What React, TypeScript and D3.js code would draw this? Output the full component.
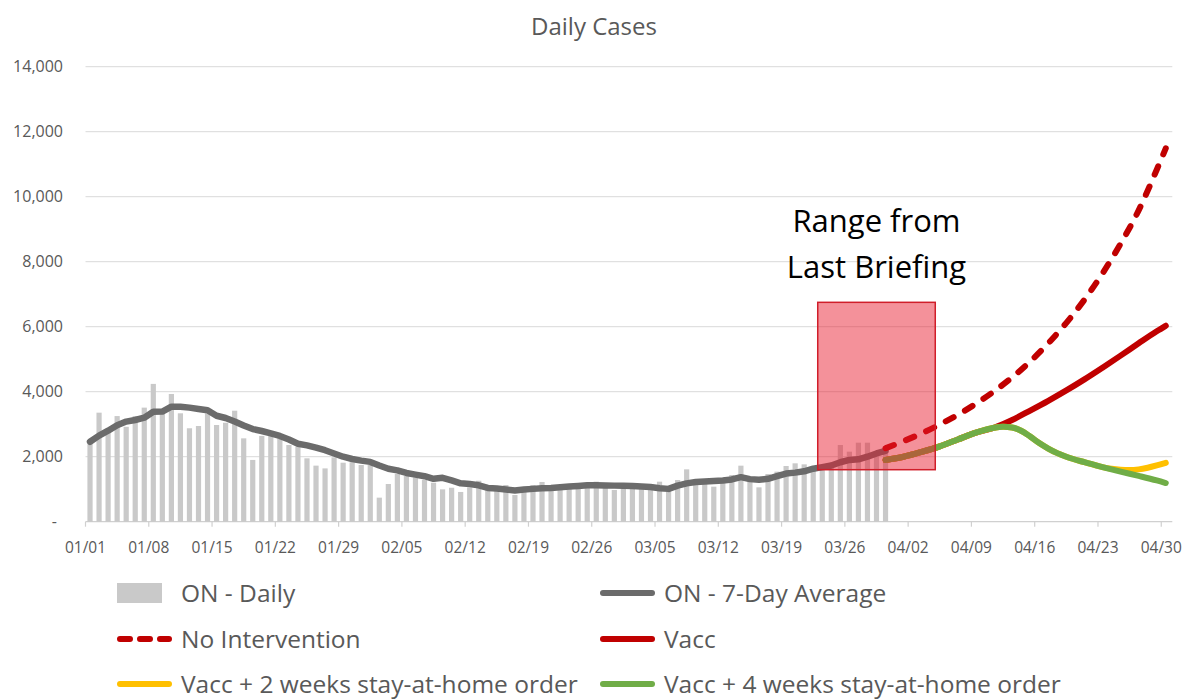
import React from "react";
import * as d3 from "d3";

const width = 1190;
const height = 700;
const plot = { left: 85.5, right: 1170.3, top: 66.7, bottom: 521.7 };

// daily reported cases, 01/01 .. 03/30
const dailyCases = [
  2460, 3355, 2860, 3250, 2920, 3250, 3510, 4240, 3355, 3930,
  3335, 2875, 2945, 3335, 2975, 3045, 3415, 2565, 1900, 2640,
  2670, 2565, 2360, 2310, 1950, 1725, 1640, 1980, 1815, 1830,
  1745, 1745, 740, 1160, 1470, 1405, 1365, 1285, 1200, 995,
  1045, 915, 1055, 1260, 995, 1077, 1129, 822, 1027, 1129,
  1222, 1077, 1077, 1129, 1129, 1129, 1232, 1077, 975, 1077,
  1077, 1077, 1027, 1232, 1027, 1283, 1611, 1180, 1160, 1078,
  1232, 1437, 1724, 1334, 1057, 1468, 1540, 1714, 1796, 1765,
  1642, 1660, 1693, 2360, 2155, 2432, 2432, 2103, 2206,
];

// 7-day average, same days
const sevenDayAvg = [
  2460, 2650, 2800, 2970, 3080, 3130, 3200, 3385, 3390, 3540,
  3540, 3510, 3470, 3430, 3260, 3190, 3080, 2960, 2850, 2790,
  2720, 2640, 2530, 2400, 2350, 2280, 2200, 2100, 2000, 1930,
  1880, 1840, 1730, 1630, 1580, 1500, 1450, 1400, 1320, 1350,
  1270, 1180, 1160, 1120, 1040, 1020, 990, 960, 990, 1010,
  1030, 1040, 1060, 1080, 1100, 1120, 1125, 1115, 1110, 1105,
  1100, 1080, 1065, 1030, 1010, 1110, 1180, 1220, 1235, 1250,
  1270, 1300, 1370, 1310, 1290, 1320, 1400, 1480, 1510, 1550,
  1630, 1680, 1730, 1830, 1900, 1920, 2000, 2100, 2180,
];

const projDates = [
  "03/30", "04/01", "04/03", "04/05", "04/07", "04/09", "04/11", "04/13", "04/15",
  "04/17", "04/19", "04/21", "04/23", "04/25", "04/27", "04/29", "04/30",
];
const noInterventionValues = [
  2260, 2480, 2720, 2990, 3290, 3630, 4010, 4440, 4930,
  5490, 6120, 6830, 7640, 8550, 9580, 10830, 11490,
];
const vaccValues = [
  1900, 2000, 2150, 2320, 2530, 2740, 2890, 3130, 3420,
  3720, 4040, 4380, 4740, 5110, 5490, 5860, 6030,
];

const vacc4Dates = [
  "03/30", "04/01", "04/03", "04/05", "04/07", "04/09", "04/11", "04/12", "04/13", "04/14",
  "04/15", "04/16", "04/17", "04/18", "04/19", "04/21", "04/23", "04/25", "04/27", "04/29", "04/30",
];
const vacc4Values = [
  1900, 2000, 2150, 2320, 2530, 2740, 2890, 2920, 2900, 2800,
  2620, 2420, 2250, 2110, 2000, 1830, 1680, 1540, 1410, 1270, 1190,
];

const vacc2Dates = [
  "03/30", "04/01", "04/03", "04/05", "04/07", "04/09", "04/11", "04/12", "04/13", "04/14",
  "04/15", "04/16", "04/17", "04/18", "04/19", "04/21", "04/23", "04/24", "04/25", "04/26",
  "04/27", "04/28", "04/29", "04/30",
];
const vacc2Values = [
  1900, 2000, 2150, 2320, 2530, 2740, 2890, 2920, 2900, 2800,
  2620, 2420, 2250, 2110, 2000, 1830, 1680, 1630, 1600, 1590,
  1610, 1660, 1730, 1810,
];

const xTickLabels = [
  "01/01", "01/08", "01/15", "01/22", "01/29", "02/05", "02/12", "02/19", "02/26",
  "03/05", "03/12", "03/19", "03/26", "04/02", "04/09", "04/16", "04/23", "04/30",
];
const yTicks = [0, 2000, 4000, 6000, 8000, 10000, 12000, 14000];

// shaded box: "Range from Last Briefing"
const rangeFrom = "03/23";
const rangeTo = "04/05";
const rangeLow = 1600;
const rangeHigh = 6750;

const FONT = "'Open Sans', 'Noto Sans', sans-serif";
const TEXT = "#595959";

const parse = (s: string) => new Date(Date.UTC(2021, +s.slice(0, 2) - 1, +s.slice(3)));
const start = parse("01/01");

export default function App() {
  const x = d3.scaleUtc()
    .domain([start, new Date(Date.UTC(2021, 4, 1))])
    .range([plot.left, plot.right]);
  const y = d3.scaleLinear().domain([0, 14000]).range([plot.bottom, plot.top]);

  // data sits in the middle of each day's slot
  const xc = (d: Date) => x(d3.utcHour.offset(d, 12));
  const dayDate = (i: number) => d3.utcDay.offset(start, i);

  const avgLine = d3.line<number>()
    .x((_, i) => xc(dayDate(i)))
    .y(v => y(v));

  const proj = d3.line<[string, number]>()
    .x(d => xc(parse(d[0])))
    .y(d => y(d[1]))
    .curve(d3.curveMonotoneX);

  const zip = (ds: string[], vs: number[]) => ds.map((d, i) => [d, vs[i]] as [string, number]);

  const barW = 5.2;
  const fmt = (v: number) => (v === 0 ? "-" : d3.format(",")(v));

  const rx0 = x(parse(rangeFrom));
  const rx1 = x(parse(rangeTo));
  const ry0 = y(rangeHigh);
  const ry1 = y(rangeLow);

  const legend = [
    { label: "ON - Daily", kind: "bar", color: "#c9c9c9", col: 0, row: 0 },
    { label: "ON - 7-Day Average", kind: "line", color: "#6b6b6b", col: 1, row: 0 },
    { label: "No Intervention", kind: "dash", color: "#c00000", col: 0, row: 1 },
    { label: "Vacc", kind: "line", color: "#c00000", col: 1, row: 1 },
    { label: "Vacc + 2 weeks stay-at-home order", kind: "line", color: "#ffc000", col: 0, row: 2 },
    { label: "Vacc + 4 weeks stay-at-home order", kind: "line", color: "#70ad47", col: 1, row: 2 },
  ];
  const legendX = [117, 600];
  const legendY = [593, 639, 684];

  return (
    <svg width={width} height={height} style={{ position: "absolute", left: 0, top: 0, background: "#fff" }}
      fontFamily={FONT}>
      <text x={594} y={35} textAnchor="middle" fontSize={24} fill={TEXT}>Daily Cases</text>

      {/* gridlines + y labels */}
      {yTicks.map(t => (
        <g key={t}>
          {t > 0 && <line x1={plot.left} x2={plot.right + 2} y1={y(t)} y2={y(t)} stroke="#d9d9d9" strokeWidth={1} />}
          <text x={t === 0 ? 57 : 63} y={y(t)} dy="0.35em" textAnchor="end" fontSize={16} fill={TEXT}>{fmt(t)}</text>
        </g>
      ))}

      {/* x axis */}
      <line x1={plot.left} x2={plot.right + 2} y1={plot.bottom} y2={plot.bottom} stroke="#d0d0d0" strokeWidth={1.2} />
      {xTickLabels.map(l => {
        const px = x(parse(l));
        return (
          <g key={l}>
            <line x1={px} x2={px} y1={plot.bottom} y2={plot.bottom + 5} stroke="#d0d0d0" strokeWidth={1.2} />
            <text x={px} y={553} textAnchor="middle" fontSize={15.5} fill={TEXT}>{l}</text>
          </g>
        );
      })}

      {/* daily bars */}
      {dailyCases.map((v, i) => (
        <rect key={i} x={xc(dayDate(i)) - barW / 2} y={y(v)} width={barW} height={y(0) - y(v)} fill="#c9c9c9" />
      ))}

      {/* 7-day average */}
      <path d={avgLine(sevenDayAvg) || ""} fill="none" stroke="#6b6b6b" strokeWidth={6.5} strokeLinejoin="round" strokeLinecap="round" />

      {/* projections */}
      <path d={proj(zip(projDates, noInterventionValues)) || ""} fill="none" stroke="#c00000" strokeWidth={6}
        strokeDasharray="9 13" strokeLinecap="round" />
      <path d={proj(zip(projDates, vaccValues)) || ""} fill="none" stroke="#c00000" strokeWidth={6} strokeLinecap="round" />
      <path d={proj(zip(vacc2Dates, vacc2Values)) || ""} fill="none" stroke="#ffc000" strokeWidth={6} strokeLinecap="round" />
      <path d={proj(zip(vacc4Dates, vacc4Values)) || ""} fill="none" stroke="#70ad47" strokeWidth={6} strokeLinecap="round" />

      {/* range box */}
      <rect x={rx0} y={ry0} width={rx1 - rx0} height={ry1 - ry0} fill="rgba(232,25,44,0.48)" stroke="#d01e2a" strokeWidth={1.5} />
      <text x={(rx0 + rx1) / 2} y={ry0 - 70} textAnchor="middle" fontSize={31} fill="#000">Range from</text>
      <text x={(rx0 + rx1) / 2} y={ry0 - 24} textAnchor="middle" fontSize={31} fill="#000">Last Briefing</text>

      {/* legend */}
      {legend.map(it => {
        const lx = legendX[it.col];
        const ly = legendY[it.row];
        return (
          <g key={it.label}>
            {it.kind === "bar" && <rect x={lx} y={ly - 10} width={45} height={20} fill={it.color} />}
            {it.kind === "line" && <line x1={lx + 3} x2={lx + 52} y1={ly} y2={ly} stroke={it.color} strokeWidth={6} strokeLinecap="round" />}
            {it.kind === "dash" && <line x1={lx + 3} x2={lx + 52} y1={ly} y2={ly} stroke={it.color} strokeWidth={6}
              strokeLinecap="round" strokeDasharray="10 10" />}
            <text x={lx + 64} y={ly} dy="0.36em" fontSize={24.5} fill={TEXT}>{it.label}</text>
          </g>
        );
      })}
    </svg>
  );
}
